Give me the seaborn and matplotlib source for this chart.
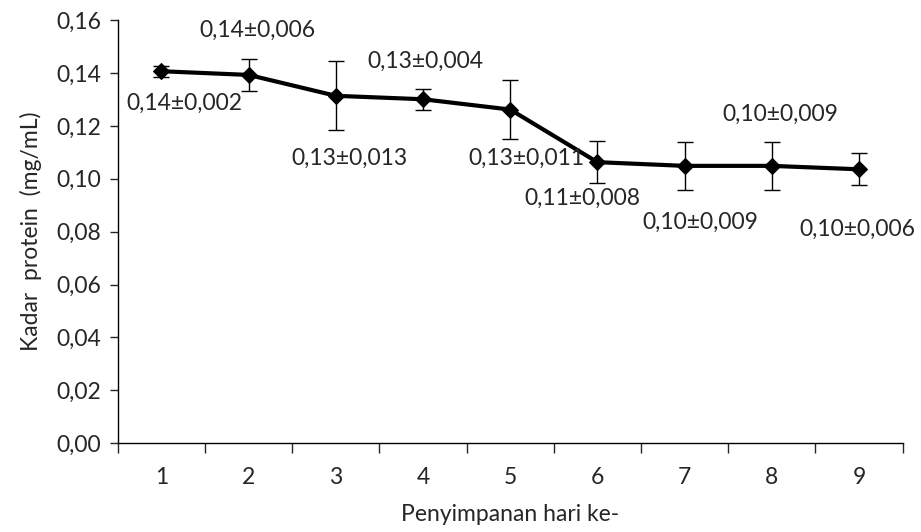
import numpy as np
import pandas as pd
import matplotlib
matplotlib.use("Agg")
import matplotlib.pyplot as plt
import seaborn as sns

# ---------------- DATA ---------------- #

days = [1, 2, 3, 4, 5, 6, 7, 8, 9]
protein = [0.1407, 0.1393, 0.1314, 0.1301, 0.1262, 0.1063, 0.1049, 0.1049, 0.1036]
sd = [0.002, 0.006, 0.013, 0.004, 0.011, 0.008, 0.009, 0.009, 0.006]
labels = ["0,14±0,002", "0,14±0,006", "0,13±0,013", "0,13±0,004", "0,13±0,011",
          "0,11±0,008", "0,10±0,009", "0,10±0,009", "0,10±0,006"]
y_ticks = [0.00, 0.02, 0.04, 0.06, 0.08, 0.10, 0.12, 0.14, 0.16]

# label offsets (points) relative to each marker
offsets = [(16.5, -23), (6, 32), (9.5, -45), (2, 27), (11.5, -35),
           (-11, -26), (11.5, -41), (6, 37), (-1, -43)]

df = pd.DataFrame({"hari": days, "protein": protein, "sd": sd})

# ---------------- PLOT ---------------- #

sns.set_style("white")
plt.rcParams["font.family"] = ["Lato", "DejaVu Sans"]
FS = 16.5

fig = plt.figure(figsize=(9.21, 5.32), dpi=100)
ax = fig.add_axes([0.128, 0.167, 0.852, 0.795])

ax.errorbar(df["hari"], df["protein"], yerr=df["sd"], fmt="none",
            ecolor="black", elinewidth=1, capsize=6, capthick=1, zorder=2)
sns.lineplot(data=df, x="hari", y="protein", ax=ax, color="black",
             linewidth=3, marker="D", markersize=8, markeredgecolor="black",
             zorder=3)

for x, y, lab, (dx, dy) in zip(days, protein, labels, offsets):
    ax.annotate(lab, (x, y), xytext=(dx, dy), textcoords="offset points",
                ha="center", va="center", fontsize=FS)

ax.set_xlim(0.5, 9.5)
ax.set_ylim(0, 0.16)
ax.set_xticks(days)
ax.set_xticks(np.arange(0.5, 10, 1), minor=True)
ax.set_yticks(y_ticks)
ax.set_yticklabels([f"{v:.2f}".replace(".", ",") for v in y_ticks])
ax.tick_params(axis="x", which="major", length=0, pad=17, labelsize=FS)
ax.tick_params(axis="x", which="minor", length=7, width=1, direction="out", bottom=True)
ax.tick_params(axis="y", length=6, width=1, direction="out", left=True, labelsize=FS, pad=6)

ax.set_xlabel("Penyimpanan hari ke-", fontsize=FS, labelpad=12)
ax.set_ylabel("Kadar  protein  (mg/mL)", fontsize=FS, labelpad=10)

sns.despine(ax=ax)
for s in ["left", "bottom"]:
    ax.spines[s].set_color("black")
    ax.spines[s].set_linewidth(1)

fig.savefig("out.png", dpi=100)
